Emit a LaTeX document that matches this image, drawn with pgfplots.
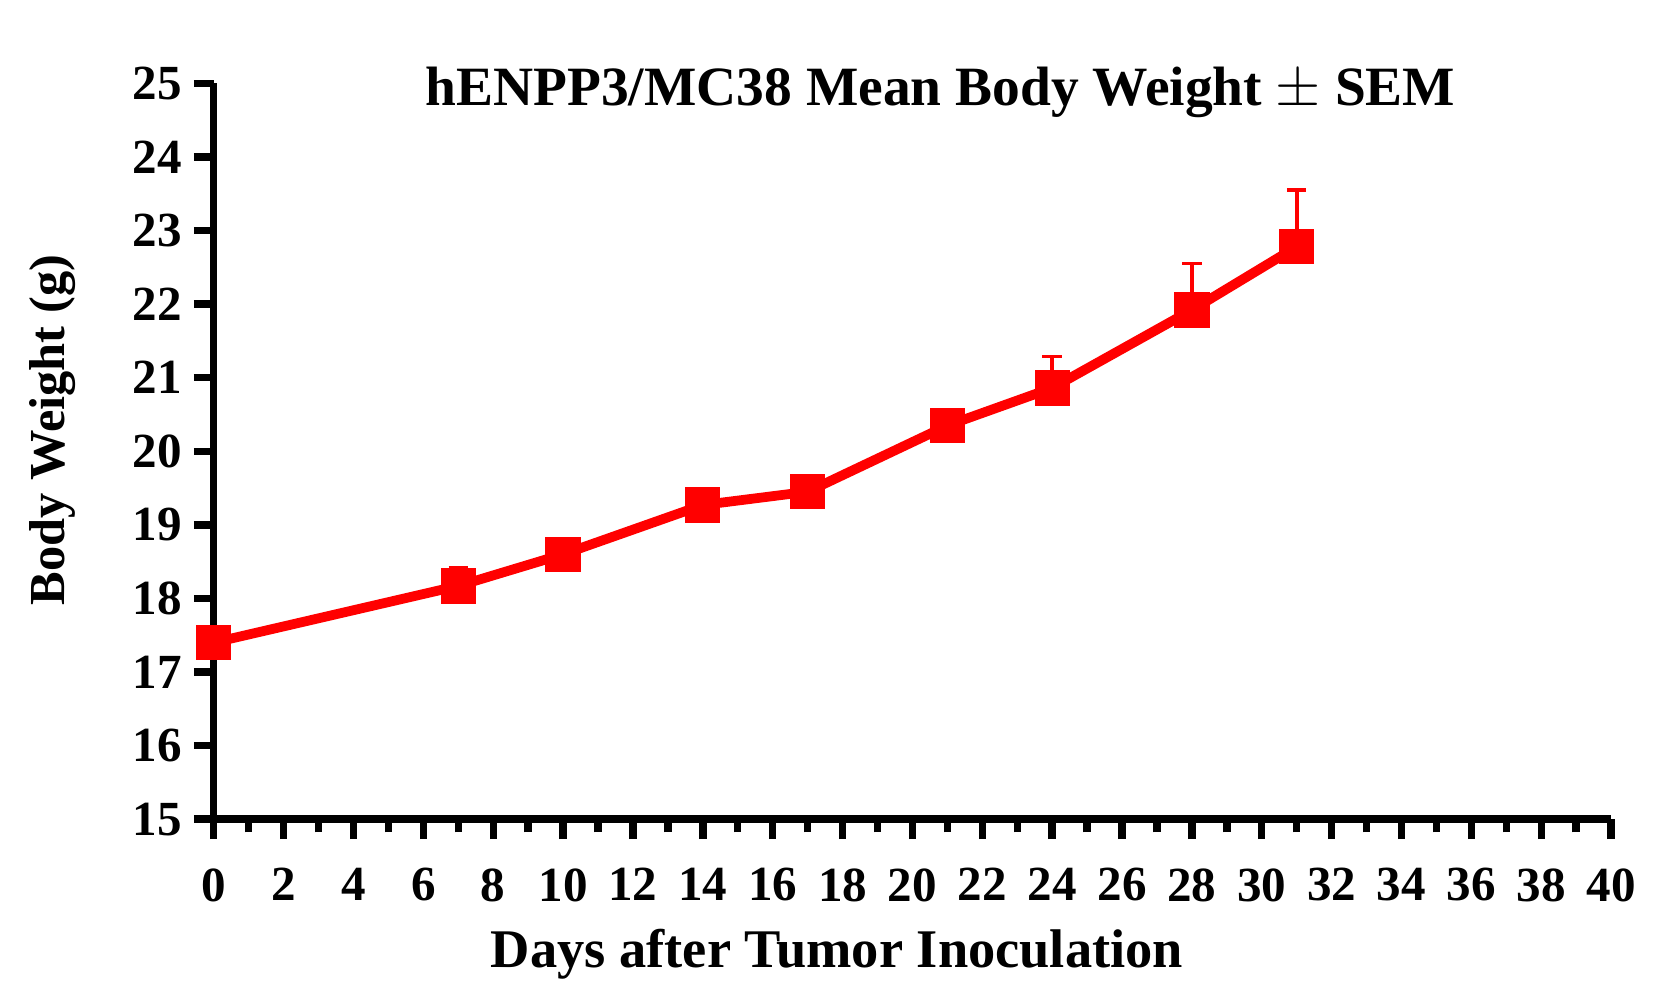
\documentclass[border=0pt]{standalone}
\usepackage{pgfplots}
\pgfplotsset{compat=1.18}
\usepackage{fontspec}
\setmainfont{Liberation Serif}
\pgfplotstableread{
day  w      e
0    17.40  0.10
7    18.17  0.25
10   18.60  0.12
14   19.27  0.10
17   19.45  0.12
21   20.35  0.15
24   20.86  0.43
28   21.92  0.63
31   22.78  0.77
}\bw
\begin{document}
\begin{tikzpicture}
\begin{axis}[
  at={(0,0)}, anchor=south west,
  scale only axis,
  width=415.7pt, height=218.9pt,
  xmin=0, xmax=40, ymin=15, ymax=25,
  axis lines=left,
  axis line style={-, line width=2.2pt, black},
  xtick={0,2,...,40},
  minor xtick={1,3,...,39},
  ytick={15,16,...,25},
  tick align=outside,
  major tick length=5.9pt,
  minor tick length=3.9pt,
  every tick/.style={black, line width=2.2pt},
  /pgf/number format/assume math mode=true,
  tick label style={font=\fontsize{14.6}{16}\selectfont\bfseries},
  xticklabel style={yshift=-5.2pt},
  clip=false,
]
\addplot[red, line width=2.9pt, mark=square*, mark size=5.1pt,
  mark options={solid, fill=red, draw=red, line width=0pt},
  error bars/.cd, y dir=plus, y explicit,
  error bar style={line width=1.1pt, red},
  error mark options={rotate=90, mark size=2.9pt, line width=1.1pt, red}]
  table[x=day, y=w, y error=e]{\bw};
\node[anchor=base, font=\fontsize{16.5}{18}\selectfont\bfseries] at (rel axis cs:0.52,0.9695) {hENPP3/MC38 Mean Body Weight $\pm$ SEM};
\path (rel axis cs:0.446,0) ++(0pt,-44.2pt) node[anchor=base, font=\fontsize{16.2}{18}\selectfont\bfseries] {Days after Tumor Inoculation};
\path (rel axis cs:0,0.529) ++(-44.5pt,0pt) node[anchor=base, rotate=90, font=\fontsize{15}{17}\selectfont\bfseries] {Body Weight (g)};
\end{axis}
\pgfresetboundingbox
\useasboundingbox (-63.6pt,-52pt) rectangle (435.6pt,243.7pt);
\end{tikzpicture}
\end{document}
